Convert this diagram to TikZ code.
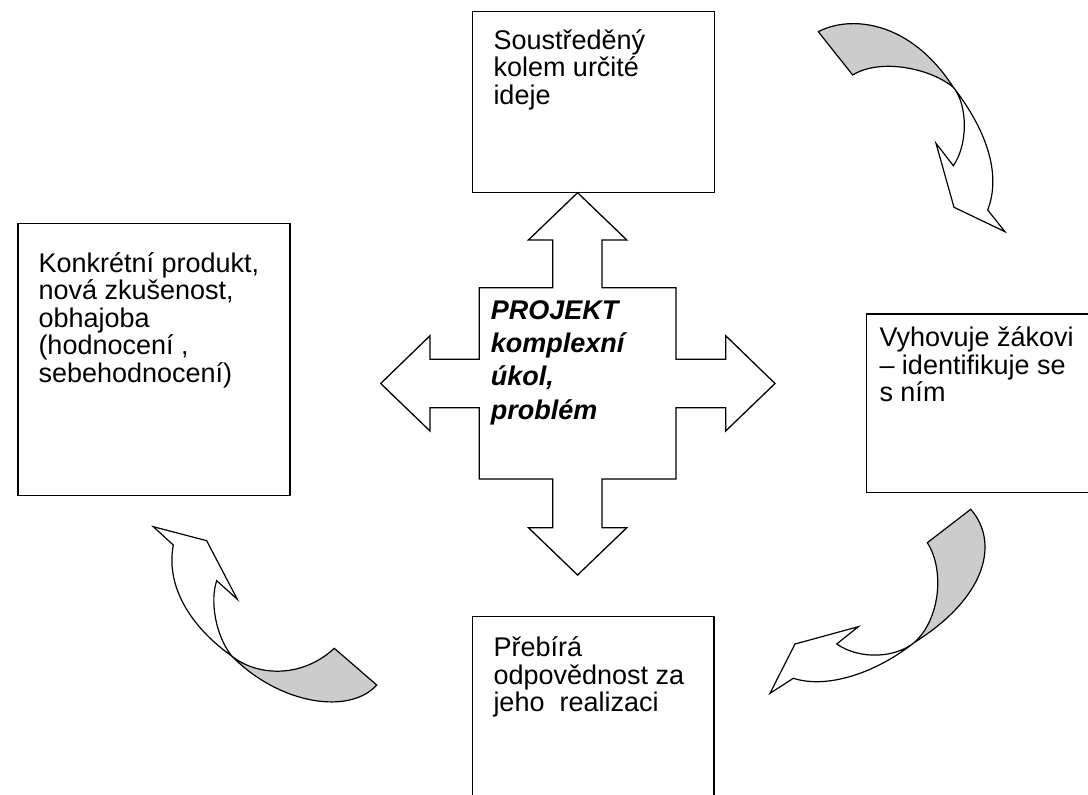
\documentclass[tikz,border=0pt]{standalone}
\usepackage{fontspec}
\setmainfont{Liberation Sans}
\begin{document}
\begin{tikzpicture}[x=1pt,y=-1pt,line join=miter,
  box/.style={draw=black,line width=1.3pt,fill=white,inner sep=0pt,anchor=north west},
  txt/.style={font=\fontsize{27}{27.5}\selectfont,align=left,inner sep=0pt,anchor=base west},
  ctxt/.style={font=\fontsize{27}{33.3}\selectfont\bfseries\itshape,align=left,inner sep=0pt,anchor=base west},
  band/.style={draw=black,line width=1.2pt,fill=white},
  back/.style={draw=black,line width=1.2pt,fill=black!20}]
\path[use as bounding box] (0,0) rectangle (1088,795);
\clip (0,0) rectangle (1088,795);

% boxes
\node[box,minimum width=242pt,minimum height=181.5pt] (topbox) at (472,10.5) {};
\node[box,minimum width=272pt,minimum height=272.3pt] (leftbox) at (17.3,222.7) {};
\node[box,minimum width=240pt,minimum height=178.7pt] (rightbox) at (866,313.3) {};
\node[box,minimum width=241.3pt,minimum height=200pt] (botbox) at (472,615.7) {};

% texts (anchor = baseline of the last line)
\node[txt] (toptext) at (493.3,104) {Soustředěný\\kolem určité\\ideje};
\node[txt] (lefttext) at (38.3,382.3) {Konkrétní produkt,\\nová zkušenost,\\obhajoba\\(hodnocení ,\\sebehodnocení)};
\node[txt] (righttext) at (879.3,401.7) {Vyhovuje žákovi\\– identifikuje se\\s ním};
\node[txt] (bottext) at (493.3,711.7) {Přebírá\\odpovědnost za\\jeho\ \ realizaci};

% four-way arrow
\draw[band,line width=1.3pt] (577.6,192.7) -- (626.8,240) -- (602,240) -- (602,287.7) -- (676,287.7) -- (676,359.3)
 -- (725.7,359.3) -- (725.7,335.7) -- (775,383.5) -- (725.7,431) -- (725.7,407.7) -- (676,407.7)
 -- (676,479) -- (602,479) -- (602,527.7) -- (626.8,527.7) -- (577.6,575) -- (528.4,527.7)
 -- (552.7,527.7) -- (552.7,479) -- (479.3,479) -- (479.3,407.7) -- (430,407.7) -- (430,431)
 -- (380.7,383.5) -- (430,335.7) -- (430,359.3) -- (479.3,359.3) -- (479.3,287.7) -- (552.7,287.7)
 -- (552.7,240) -- (528.4,240) -- cycle;
\node[ctxt] (proj) at (490.7,419.2) {PROJEKT\\komplexní\\úkol,\\problém};

% curved arrow top right
\draw[back] (818.3,31.7) .. controls (850,15) and (910,20) .. (953.3,87.3)
  .. controls (930,68) and (880,58) .. (852.7,75) -- cycle;
\draw[band] (953.3,87.3) .. controls (975,115) and (1005,165) .. (987.7,210) -- (1005,231.7)
  -- (954,207.3) -- (936,143.3) -- (953.3,165.7) .. controls (968,145) and (968,105) .. (953.3,87.3) -- cycle;

% curved arrow bottom right
\draw[back] (970.7,509.3) .. controls (998,540) and (990,595) .. (914,642.7)
  .. controls (940,620) and (945,570) .. (927.3,542.7) -- cycle;
\draw[band] (914,642.7) .. controls (880,670) and (830,690) .. (793.3,678.3) -- (770,693.3)
  -- (795,644) -- (858.3,626.7) -- (836.7,644) .. controls (860,660) and (895,658) .. (914,642.7) -- cycle;

% curved arrow bottom left
\draw[back] (376.7,685) .. controls (350,715) and (280,705) .. (231.7,656)
  .. controls (255,675) and (300,680) .. (334.3,648.3) -- cycle;
\draw[band] (231.7,656) .. controls (195,630) and (165,590) .. (173.3,545) -- (153.3,526.7)
  -- (206.7,540.7) -- (237.3,599.3) -- (216.7,580.7) .. controls (210,600) and (215,635) .. (231.7,656) -- cycle;
\end{tikzpicture}
\end{document}
